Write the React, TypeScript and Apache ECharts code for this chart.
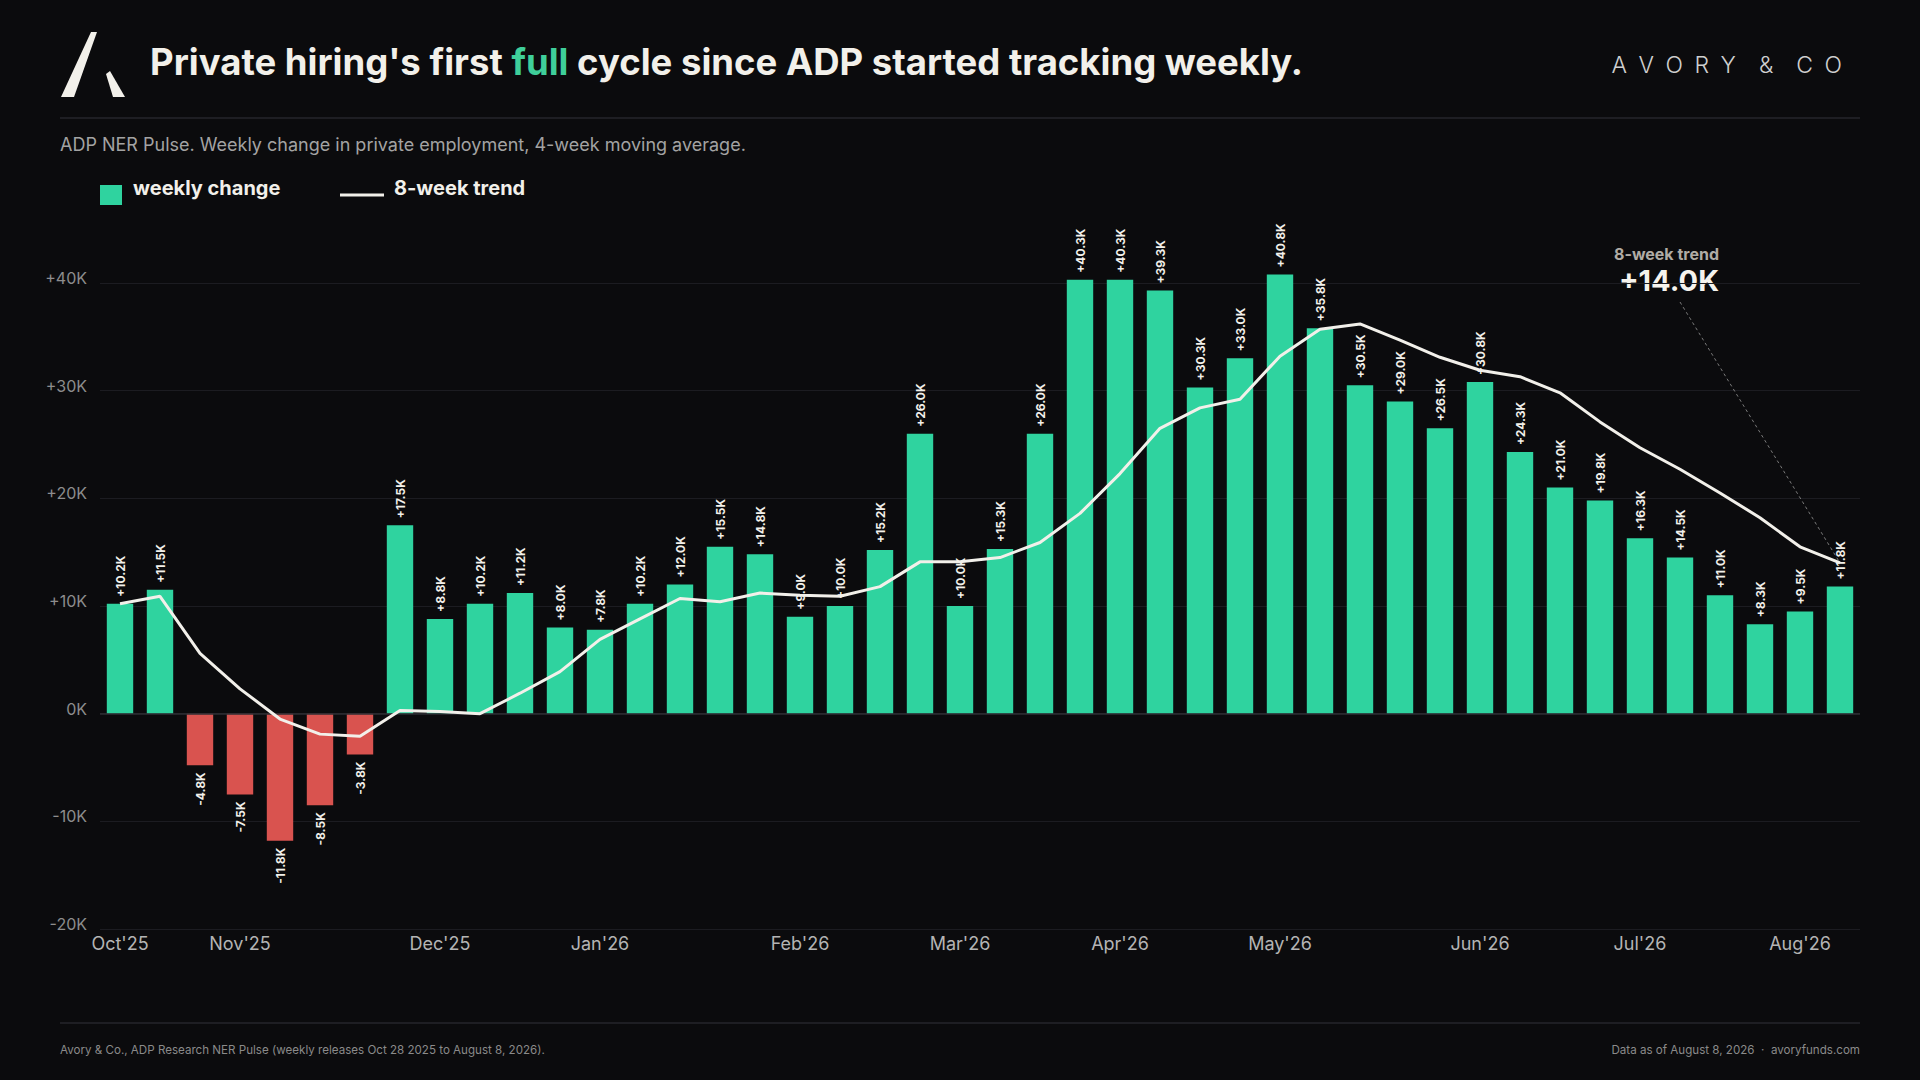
import { useEffect, useRef } from 'react';
import * as echarts from 'echarts';

// Week ending dates (Saturdays), one bar per week
const weeks = [
  '2025-10-11', '2025-10-18', '2025-10-25', '2025-11-01', '2025-11-08', '2025-11-15',
  '2025-11-22', '2025-11-29', '2025-12-06', '2025-12-13', '2025-12-20', '2025-12-27',
  '2026-01-03', '2026-01-10', '2026-01-17', '2026-01-24', '2026-01-31', '2026-02-07',
  '2026-02-14', '2026-02-21', '2026-02-28', '2026-03-07', '2026-03-14', '2026-03-21',
  '2026-03-28', '2026-04-04', '2026-04-11', '2026-04-18', '2026-04-25', '2026-05-02',
  '2026-05-09', '2026-05-16', '2026-05-23', '2026-05-30', '2026-06-06', '2026-06-13',
  '2026-06-20', '2026-06-27', '2026-07-04', '2026-07-11', '2026-07-18', '2026-07-25',
  '2026-08-01', '2026-08-08'
];

const monthLabels = [
  "Oct'25", "Nov'25", "Dec'25", "Jan'26", "Feb'26", "Mar'26",
  "Apr'26", "May'26", "Jun'26", "Jul'26", "Aug'26"
];

// weekly change, thousands of jobs
const weeklyChange = [
  10.2, 11.5, -4.8, -7.5, -11.8, -8.5, -3.8, 17.5, 8.8, 10.2, 11.2, 8.0,
  7.8, 10.2, 12.0, 15.5, 14.8, 9.0, 10.0, 15.2, 26.0, 10.0, 15.3, 26.0,
  40.3, 40.3, 39.3, 30.3, 33.0, 40.8, 35.8, 30.5, 29.0, 26.5, 30.8, 24.3,
  21.0, 19.8, 16.3, 14.5, 11.0, 8.3, 9.5, 11.8
];

// 8-week trend, thousands of jobs
const trend8w = [
  10.2, 10.9, 5.6, 2.3, -0.5, -1.9, -2.1, 0.3, 0.2, 0.0, 1.9, 3.9,
  6.9, 8.8, 10.7, 10.4, 11.2, 11.0, 10.9, 11.8, 14.1, 14.1, 14.5, 15.9,
  18.6, 22.3, 26.5, 28.4, 29.2, 33.2, 35.7, 36.2, 34.7, 33.1, 31.9, 31.3,
  29.8, 27.1, 24.7, 22.7, 20.5, 18.2, 15.5, 14.0
];

const GREEN = '#2fd39f';
const RED = '#d9534f';
const INK = '#f2f0ea';
const FONT = 'Inter';

const fmtK = (v: number) => (v > 0 ? '+' : '') + v.toFixed(1) + 'K';

// first week of each month gets the month tick label
const monthStart: number[] = [];
weeks.forEach((w, i) => {
  if (i === 0 || w.slice(0, 7) !== weeks[i - 1].slice(0, 7)) monthStart.push(i);
});

export default function App() {
  const chartRef = useRef<HTMLDivElement>(null);

  useEffect(() => {
    document.body.style.margin = '0';
    document.body.style.background = '#0b0b0d';
    if (!chartRef.current) return;
    const chart = echarts.init(chartRef.current, null, { renderer: 'svg' });

    const lastTrend = trend8w[trend8w.length - 1];

    chart.setOption({
      animation: false,
      backgroundColor: '#0b0b0d',
      textStyle: { fontFamily: FONT },
      grid: { left: 100, right: 60, top: 283, bottom: 151, containLabel: false },
      xAxis: {
        type: 'category',
        data: weeks,
        axisLine: { show: false },
        axisTick: { show: false },
        axisLabel: {
          color: '#b4b4b4',
          fontSize: 18,
          fontFamily: FONT,
          margin: 5,
          interval: (i: number) => monthStart.includes(i),
          formatter: (_v: string, i: number) => monthLabels[monthStart.indexOf(i)] ?? ''
        }
      },
      yAxis: {
        type: 'value',
        min: -20,
        max: 40,
        interval: 10,
        axisLine: { show: false },
        axisTick: { show: false },
        axisLabel: {
          color: '#8d8d8d',
          fontSize: 16,
          fontFamily: FONT,
          margin: 13,
          verticalAlign: 'bottom',
          lineHeight: 10,
          formatter: (v: number) => (v > 0 ? '+' : '') + v + 'K'
        },
        splitLine: { lineStyle: { color: '#1c1c21', width: 1 } }
      },
      series: [
        {
          name: 'weekly change',
          type: 'bar',
          barCategoryGap: '34%',
          clip: false,
          data: weeklyChange.map(v => ({
            value: v,
            itemStyle: { color: v < 0 ? RED : GREEN },
            label: { align: v < 0 ? 'right' : 'left' }
          })),
          label: {
            show: true,
            position: 'outside',
            rotate: 90,
            distance: 7,
            verticalAlign: 'middle',
            color: INK,
            fontSize: 12,
            fontWeight: 'bold',
            fontFamily: FONT,
            formatter: (p: any) => fmtK(p.value)
          },
          markLine: {
            silent: true,
            symbol: 'none',
            label: { show: false },
            lineStyle: { color: '#2e2e33', type: 'solid', width: 1.5 },
            data: [{ yAxis: 0 }]
          }
        },
        {
          name: '8-week trend',
          type: 'line',
          data: trend8w,
          symbol: 'none',
          clip: false,
          z: 5,
          lineStyle: { color: INK, width: 3 },
          markLine: {
            silent: true,
            symbol: 'none',
            label: { show: false },
            lineStyle: { color: '#7a7a7a', type: [3, 3], width: 1 },
            data: [[{ x: 1680, y: 302 }, { coord: [weeks.length - 1, lastTrend] }]]
          }
        }
      ],
      graphic: [
        // logo
        { type: 'polygon', shape: { points: [[91, 32], [97, 32], [74, 97], [61, 97]] }, style: { fill: INK } },
        { type: 'polygon', shape: { points: [[106, 74], [110, 71], [125, 97], [113, 97]] }, style: { fill: INK } },
        {
          type: 'text', x: 150, y: 62,
          style: {
            text: "Private hiring's first {g|full} cycle since ADP started tracking weekly.",
            fill: INK, font: `bold 36.5px ${FONT}`, verticalAlign: 'middle',
            rich: { g: { fill: '#3fcf9a', font: `bold 36.5px ${FONT}` } }
          }
        },
        {
          type: 'text', x: 1842, y: 65,
          style: {
            text: 'A\u2002V\u2002O\u2002R\u2002Y\u2003&\u2003C\u2002O',
            fill: '#cfcfcf', font: `300 23px ${FONT}`, align: 'right', verticalAlign: 'middle'
          }
        },
        { type: 'line', shape: { x1: 60, y1: 118, x2: 1860, y2: 118 }, style: { stroke: '#26262b', lineWidth: 1.5 } },
        {
          type: 'text', x: 60, y: 144,
          style: {
            text: 'ADP NER Pulse. Weekly change in private employment, 4-week moving average.',
            fill: '#a3a3a3', font: `18px ${FONT}`, verticalAlign: 'middle'
          }
        },
        // legend
        { type: 'rect', shape: { x: 100, y: 185, width: 22, height: 20 }, style: { fill: GREEN } },
        { type: 'text', x: 133, y: 188, style: { text: 'weekly change', fill: INK, font: `bold 20px ${FONT}`, verticalAlign: 'middle' } },
        { type: 'line', shape: { x1: 340, y1: 195, x2: 384, y2: 195 }, style: { stroke: INK, lineWidth: 3 } },
        { type: 'text', x: 394, y: 188, style: { text: '8-week trend', fill: INK, font: `bold 20px ${FONT}`, verticalAlign: 'middle' } },
        // trend callout
        { type: 'text', x: 1719, y: 254, style: { text: '8-week trend', fill: '#b0aca5', font: `bold 16px ${FONT}`, align: 'right', verticalAlign: 'middle' } },
        { type: 'text', x: 1719, y: 280, style: { text: fmtK(lastTrend), fill: '#f5f3ee', font: `bold 29px ${FONT}`, align: 'right', verticalAlign: 'middle' } },
        // footer
        { type: 'line', shape: { x1: 60, y1: 1023, x2: 1860, y2: 1023 }, style: { stroke: '#26262b', lineWidth: 1.5 } },
        {
          type: 'text', x: 60, y: 1050,
          style: {
            text: 'Avory & Co., ADP Research NER Pulse (weekly releases Oct 28 2025 to August 8, 2026).',
            fill: '#8a8a8a', font: `11.6px ${FONT}`, verticalAlign: 'middle'
          }
        },
        {
          type: 'text', x: 1860, y: 1050,
          style: {
            text: 'Data as of August 8, 2026  \u00b7  avoryfunds.com',
            fill: '#8a8a8a', font: `11.6px ${FONT}`, align: 'right', verticalAlign: 'middle'
          }
        }
      ]
    });

    return () => {
      chart.dispose();
    };
  }, []);

  return <div ref={chartRef} style={{ width: '1920px', height: '1080px' }} />;
}
